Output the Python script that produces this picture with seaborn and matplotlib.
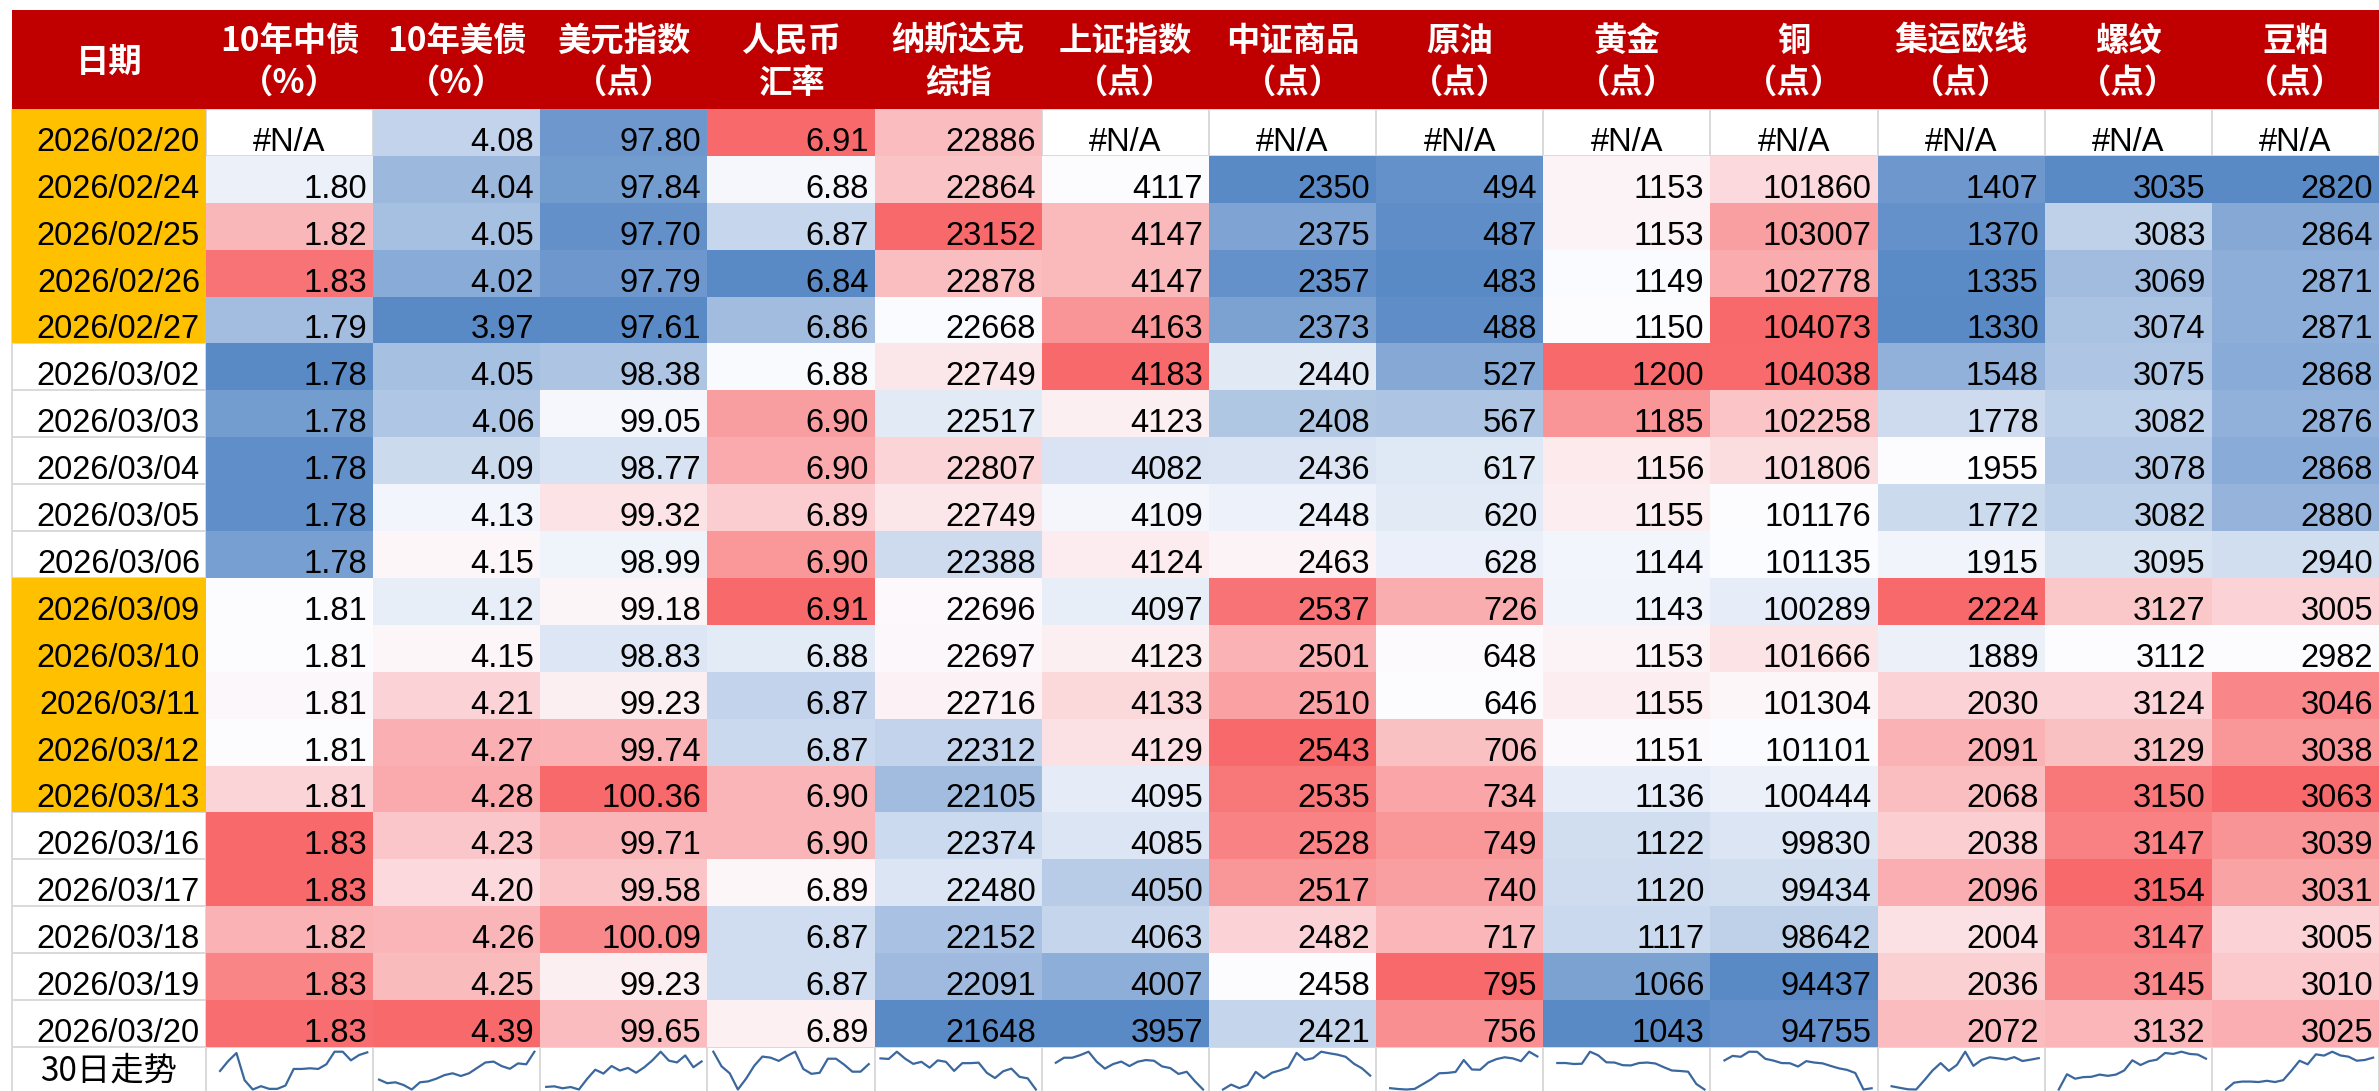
import numpy as np
import pandas as pd
import seaborn as sns
import matplotlib
matplotlib.use('Agg')
import matplotlib.pyplot as plt
from matplotlib.colors import LinearSegmentedColormap
from matplotlib.patches import Rectangle
from matplotlib import font_manager

nan = np.nan

# ---- data ----
dates = ['2026/02/20', '2026/02/24', '2026/02/25', '2026/02/26', '2026/02/27',
         '2026/03/02', '2026/03/03', '2026/03/04', '2026/03/05', '2026/03/06',
         '2026/03/09', '2026/03/10', '2026/03/11', '2026/03/12', '2026/03/13',
         '2026/03/16', '2026/03/17', '2026/03/18', '2026/03/19', '2026/03/20']
highlight = [1, 1, 1, 1, 1, 0, 0, 0, 0, 0, 1, 1, 1, 1, 1, 0, 0, 0, 0, 0]

head_top = ['10年中债', '10年美债', '美元指数', '人民币', '纳斯达克', '上证指数', '中证商品',
            '原油', '黄金', '铜', '集运欧线', '螺纹', '豆粕']
head_bottom = ['（%）', '（%）', '（点）', '汇率', '综指', '（点）', '（点）',
               '（点）', '（点）', '（点）', '（点）', '（点）', '（点）']
decimals = [2, 2, 2, 2, 0, 0, 0, 0, 0, 0, 0, 0, 0]

cn_10y = [nan, 1.804, 1.819, 1.831, 1.790, 1.776, 1.781, 1.777, 1.777, 1.782,
          1.807, 1.807, 1.808, 1.807, 1.814, 1.833, 1.833, 1.820, 1.828, 1.832]
us_10y = [4.08, 4.04, 4.05, 4.02, 3.97, 4.05, 4.06, 4.09, 4.13, 4.15,
          4.12, 4.15, 4.21, 4.27, 4.28, 4.23, 4.20, 4.26, 4.25, 4.39]
dxy = [97.80, 97.84, 97.70, 97.79, 97.61, 98.38, 99.05, 98.77, 99.32, 98.99,
       99.18, 98.83, 99.23, 99.74, 100.36, 99.71, 99.58, 100.09, 99.23, 99.65]
cny = [6.910, 6.883, 6.870, 6.840, 6.860, 6.884, 6.901, 6.899, 6.893, 6.902,
       6.910, 6.878, 6.869, 6.871, 6.897, 6.897, 6.886, 6.873, 6.873, 6.887]
nasdaq = [22886, 22864, 23152, 22878, 22668, 22749, 22517, 22807, 22749, 22388,
          22696, 22697, 22716, 22312, 22105, 22374, 22480, 22152, 22091, 21648]
sse = [nan, 4117, 4147, 4147, 4163, 4183, 4123, 4082, 4109, 4124,
       4097, 4123, 4133, 4129, 4095, 4085, 4050, 4063, 4007, 3957]
csi_comm = [nan, 2350, 2375, 2357, 2373, 2440, 2408, 2436, 2448, 2463,
            2537, 2501, 2510, 2543, 2535, 2528, 2517, 2482, 2458, 2421]
crude = [nan, 494, 487, 483, 488, 527, 567, 617, 620, 628,
         726, 648, 646, 706, 734, 749, 740, 717, 795, 756]
gold = [nan, 1153, 1153, 1149, 1150, 1200, 1185, 1156, 1155, 1144,
        1143, 1153, 1155, 1151, 1136, 1122, 1120, 1117, 1066, 1043]
copper = [nan, 101860, 103007, 102778, 104073, 104038, 102258, 101806, 101176, 101135,
          100289, 101666, 101304, 101101, 100444, 99830, 99434, 98642, 94437, 94755]
freight = [nan, 1407, 1370, 1335, 1330, 1548, 1778, 1955, 1772, 1915,
           2224, 1889, 2030, 2091, 2068, 2038, 2096, 2004, 2036, 2072]
rebar = [nan, 3035, 3083, 3069, 3074, 3075, 3082, 3078, 3082, 3095,
         3127, 3112, 3124, 3129, 3150, 3147, 3154, 3147, 3145, 3132]
soymeal = [nan, 2820, 2864, 2871, 2871, 2868, 2876, 2868, 2880, 2940,
           3005, 2982, 3046, 3038, 3063, 3039, 3031, 3005, 3010, 3025]

df = pd.DataFrame(dict(zip(head_top, [cn_10y, us_10y, dxy, cny, nasdaq, sse, csi_comm,
                                      crude, gold, copper, freight, rebar, soymeal])))

# ---- layout (pixels) ----
W, H = 2379, 1091
X0, XD, XR = 12, 206, 2379
Y0, YH, ROW = 10, 109, 46.9
NR, NC = len(dates), len(head_top)
YS = YH + NR * ROW
COLW = (XR - XD) / NC
w0 = (XD - X0) / COLW
hh = (YH - Y0) / ROW
sh = (H - YS) / ROW

available = {f.name for f in font_manager.fontManager.ttflist}
if 'Liberation Sans Narrow' in available:
    num_font, num_size = 'Liberation Sans Narrow', 28
else:
    num_font, num_size = 'Liberation Sans', 23.5
cjk = ['Noto Sans CJK SC', 'DejaVu Sans']


def excel_scale(col):
    """3-colour scale like Excel: min -> 0, median -> 0.5, max -> 1"""
    v = col.to_numpy(dtype=float)
    lo, mid, hi = np.nanmin(v), np.nanmedian(v), np.nanmax(v)
    return np.where(v <= mid, 0.5 * (v - lo) / (mid - lo), 0.5 + 0.5 * (v - mid) / (hi - mid))


scaled = df.apply(excel_scale)
cmap = LinearSegmentedColormap.from_list('rwb', ['#5A8AC6', '#FCFCFF', '#F8696B'])

fig = plt.figure(figsize=(W / 100, H / 100), dpi=100)
ax = fig.add_axes([X0 / W, 0, (XR - X0) / W, (H - Y0) / H])

sns.heatmap(scaled, cmap=cmap, vmin=0, vmax=1, cbar=False, ax=ax,
            xticklabels=False, yticklabels=False)
ax.set_xlim(-w0, NC)
ax.set_ylim(NR + sh, -hh)
ax.axis('off')

# grid lines under the fills
grid = '#D9D9D9'
ax.hlines(np.arange(NR + 1), -w0, NC, color=grid, lw=1.4, zorder=0.5, clip_on=False)
ax.vlines(np.r_[-w0, np.arange(NC + 1)], 0, NR + sh, color=grid, lw=1.4, zorder=0.5, clip_on=False)

# header
ax.add_patch(Rectangle((-w0, -hh), w0 + NC, hh, fc='#C00000', lw=0, zorder=1))
ax.text(-w0 / 2, (62 - YH) / ROW, '日期', ha='center', va='center', color='white',
        fontsize=24, fontweight='bold', family=cjk, zorder=3)
for j, (t, b) in enumerate(zip(head_top, head_bottom)):
    ax.text(j + 0.5, (41 - YH) / ROW, t, ha='center', va='center', color='white',
            fontsize=24, fontweight='bold', family=cjk, zorder=3)
    ax.text(j + 0.5, (83 - YH) / ROW, b, ha='center', va='center', color='white',
            fontsize=24, fontweight='bold', family=cjk, zorder=3)

# date column
pad = 6 / COLW
base = 1 - 5 / ROW
for i, d in enumerate(dates):
    if highlight[i]:
        ax.add_patch(Rectangle((-w0, i), w0, 1, fc='#FFC000', lw=0, zorder=1))
    ax.text(-pad, i + base, d, ha='right', va='baseline', fontsize=num_size,
            family=num_font, color='black', zorder=3)

# cell values
for j, name in enumerate(head_top):
    for i, v in enumerate(df[name]):
        if np.isnan(v):
            ax.text(j + 0.5, i + base, '#N/A', ha='center', va='baseline',
                    fontsize=num_size, family=num_font, zorder=3)
        else:
            ax.text(j + 1 - pad, i + base, f'{v:.{decimals[j]}f}', ha='right',
                    va='baseline', fontsize=num_size, family=num_font, zorder=3)

# sparkline row
ax.text(-w0 / 2, NR + (1071 - YS) / ROW, '30日走势', ha='center', va='center',
        fontsize=24, family=cjk, zorder=3)
for j, name in enumerate(head_top):
    s = df[name].dropna()
    sax = fig.add_axes([(XD + j * COLW) / W, 0, COLW / W, (H - YS) / H])
    sns.lineplot(x=s.index, y=s.values, ax=sax, estimator=None, color='#3B679F', lw=1.6)
    r = s.max() - s.min()
    span = r / (1 - 0.141)
    sax.set_xlim(-0.72, NR - 1 + 0.72)
    sax.set_ylim(s.min() - 0.034 * span, s.max() + 0.107 * span)
    sax.axis('off')

fig.savefig('out.png', dpi=100)
